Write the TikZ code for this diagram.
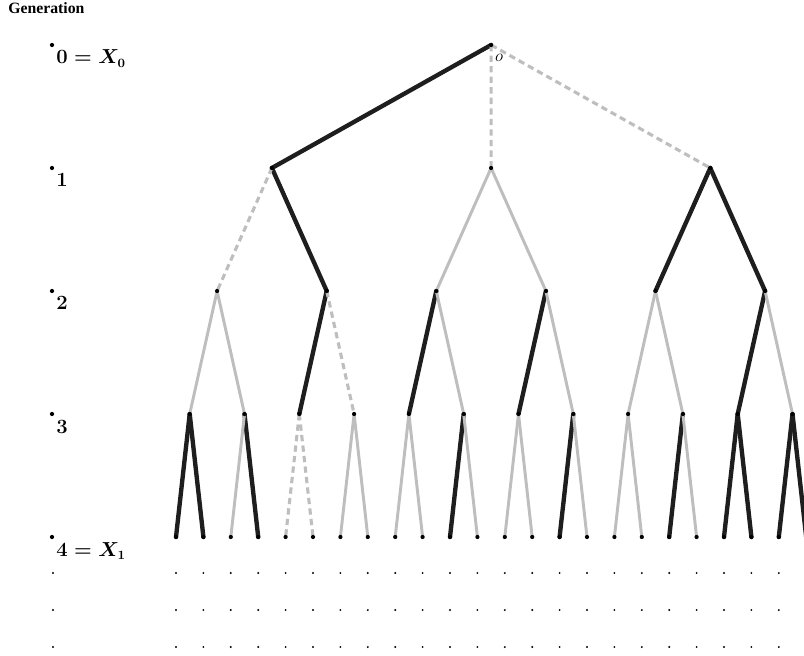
\documentclass[tikz,border=0pt]{standalone}
\usepackage{fontspec}
\newfontfamily\genfont{Liberation Serif}
\usetikzlibrary{backgrounds}
\definecolor{cdark}{HTML}{1E1E1E}
\definecolor{clight}{HTML}{BEBEBE}
\tikzset{
  dot/.style={circle, fill=black, inner sep=0pt, minimum size=3pt},
  speck/.style={circle, fill=black, inner sep=0pt, minimum size=1.5pt},
  kept/.style={draw=cdark, line width=3.1pt, line cap=round},
  lost/.style={draw=clight, line width=2.1pt},
  dead/.style={draw=clight, line width=2.2pt, dash pattern=on 4.5pt off 3pt},
  gen/.style={anchor=base west, inner sep=0pt, font=\fontsize{13.5}{16}\selectfont\boldmath},
  title/.style={anchor=base west, inner sep=0pt, font=\genfont\bfseries\fontsize{11.2}{13}\selectfont},
}

\begin{document}
\begin{tikzpicture}[x=0.025cm, y=-0.025cm]
  \useasboundingbox (0,0) rectangle (804,656);
  \node[title] (head) at (8,14) {Generation};
  % generation column on the left
  \foreach \g/\y/\t in {0/45/{$0 = X_0$}, 1/168/{$1$}, 2/291/{$2$}, 3/414/{$3$}, 4/537/{$4 = X_1$}} {
    \node[dot] (m\g) at (52,\y) {};
    \node[gen] (l\g) at (56,\y+19) {\t};
  }
  % the tree, leaves first, parents halfway between their children
  \foreach \i in {1,...,24} \node[dot] (d\i) at ({176+27.4*(\i-1)}, 537) {};
  \foreach \i in {1,...,12} \node[dot] (c\i) at ({176+27.4*(2*\i-1.5)}, 414) {};
  \foreach \i in {1,...,6} \node[dot] (b\i) at ({176+27.4*(4*\i-2.5)}, 291) {};
  \foreach \i in {1,2,3} \node[dot] (a\i) at ({176+27.4*(8*\i-4.5)}, 168) {};
  \node[dot] (o) at (491.1,45) {};
  \node[inner sep=0pt, font=\fontsize{12}{14}\selectfont] (olab) at (499,58) {$o$};
  % later generations, only dots
  \foreach \r/\y in {1/573, 2/610, 3/647} {
    \node[speck] (s\r) at (53,\y) {};
    \foreach \i in {1,...,23} \node[speck] (s\r-\i) at ({176+27.4*(\i-1)}, \y) {};
  }
  % edges go under the dots
  \begin{scope}[on background layer]
    \foreach \a/\c in {o/a1, a1/b2, a3/b5, a3/b6, b2/c3, b3/c5, b4/c7, b6/c11,
      c1/d1, c1/d2, c2/d4, c6/d11, c8/d15, c10/d19, c11/d21, c11/d22, c12/d23, c12/d24}
      \draw[kept] (\a.center) -- (\c.center);
    \foreach \a/\c in {a2/b3, a2/b4, b1/c1, b1/c2, b3/c6, b4/c8, b5/c9, b5/c10, b6/c12,
      c2/d3, c4/d7, c4/d8, c5/d9, c5/d10, c6/d12, c7/d13, c7/d14, c8/d16, c9/d17, c9/d18, c10/d20}
      \draw[lost] (\a.center) -- (\c.center);
    \foreach \a/\c in {o/a2, o/a3, a1/b1, b2/c4, c3/d5, c3/d6}
      \draw[dead] (\a.center) -- (\c.center);
  \end{scope}
\end{tikzpicture}
\end{document}
